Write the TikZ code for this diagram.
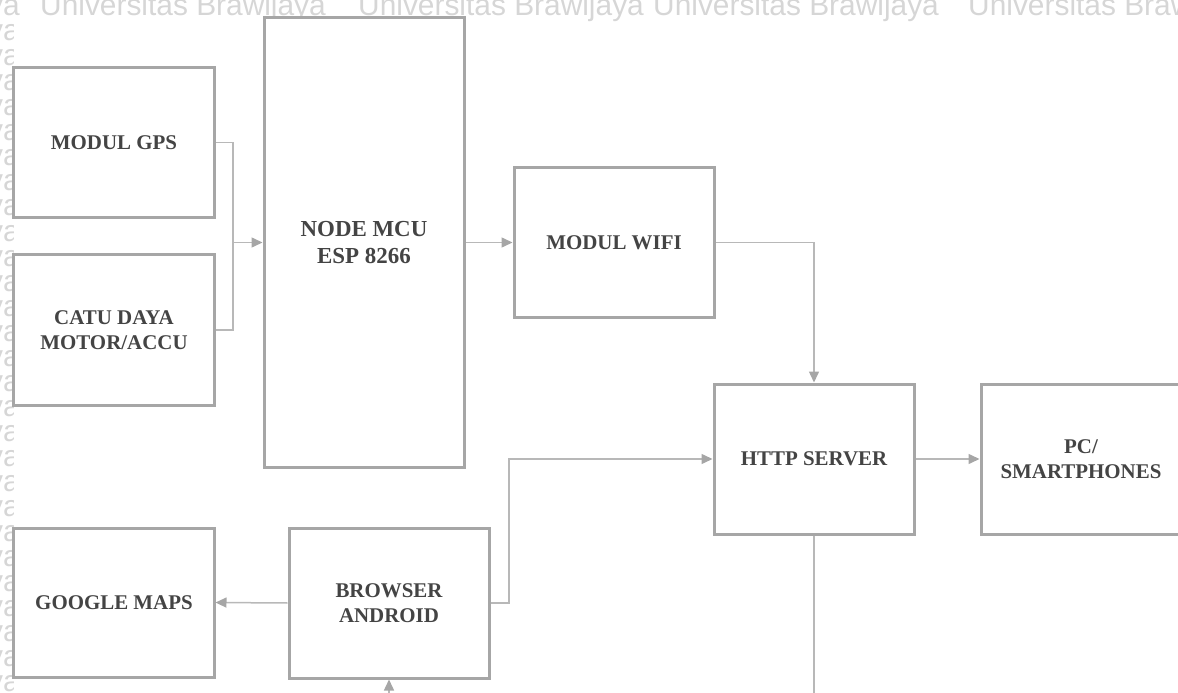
\documentclass[tikz,border=0pt]{standalone}
\usepackage{fontspec}
\setmainfont{Liberation Serif}
\newfontfamily\wmfont{Liberation Sans}
\usetikzlibrary{arrows.meta}
\definecolor{boxgray}{HTML}{A6A6A6}
\definecolor{linegray}{HTML}{B8B8B8}
\definecolor{txtgray}{HTML}{444444}
\definecolor{wmgray}{HTML}{D6D6D6}
\begin{document}
\begin{tikzpicture}[x=1bp,y=-1bp,
 blk/.style={draw=boxgray,line width=3bp,fill=white,minimum width=200bp,minimum height=150bp,inner sep=0pt,align=center,text=txtgray,font=\fontsize{21}{25}\selectfont\bfseries},
 conn/.style={draw=linegray,line width=1.5bp},
 arr/.style={conn,-{Triangle[length=11bp,width=10bp,color=boxgray]}},
 wm/.style={text=wmgray,font=\wmfont\fontsize{30}{30}\selectfont,inner sep=0pt}]
\useasboundingbox (0,0) rectangle (1178,693);
\clip (0,0) rectangle (1178,693);
\begin{scope}
\clip (0,0) rectangle (1178,24) (0,24) rectangle (13,693);
\node[wm,anchor=base east] (wm0) at (20,16) {ya};
\node[wm,anchor=base west] (wm1) at (40,16) {Universitas Brawijaya};
\node[wm,anchor=base west] (wm2) at (358,16) {Universitas Brawijaya};
\node[wm,anchor=base west] (wm3) at (653,16) {Universitas Brawijaya};
\node[wm,anchor=base west] (wm4) at (968,16) {Universitas Braw};
\foreach \k in {1,...,27} \node[wm,anchor=base east] (wmL\k) at (20,16+25*\k) {ya};
\end{scope}
\node[blk,minimum height=149bp] (gps) at (114,142.5) {MODUL GPS};
\node[blk] (catu) at (114,330) {CATU DAYA\\MOTOR/ACCU};
\node[blk,minimum height=449bp,font=\fontsize{23}{28}\selectfont\bfseries] (mcu) at (364,242.5) {NODE MCU\\ESP 8266};
\node[blk] (wifi) at (614,242.5) {MODUL WIFI};
\node[blk] (http) at (814,459) {HTTP SERVER};
\node[blk] (pc) at (1081,459) {PC/\\SMARTPHONES};
\node[blk,minimum height=149bp] (gmaps) at (114,602.5) {GOOGLE MAPS};
\node[blk] (browser) at (389,603) {BROWSER\\ANDROID};
\coordinate (j) at (233,242.5);
\draw[conn] (gps.east) -| (j);
\draw[conn] (catu.east) -| (j);
\draw[arr] (j) -- (mcu.west);
\draw[arr] (mcu.east) -- (wifi.west);
\draw[arr] (wifi.east) -| (http.north);
\coordinate (b1) at (509,459);
\draw[arr] (browser.east) -| (b1) -- (http.west);
\draw[arr] (http.east) -- (pc.west);
\draw[arr] (browser.west) -- (gmaps.east);
\coordinate (hb) at (814,700);
\draw[conn] (http.south) -- (hb);
\coordinate (bb) at (389,700);
\draw[arr] (bb) -- (browser.south);
\end{tikzpicture}
\end{document}
